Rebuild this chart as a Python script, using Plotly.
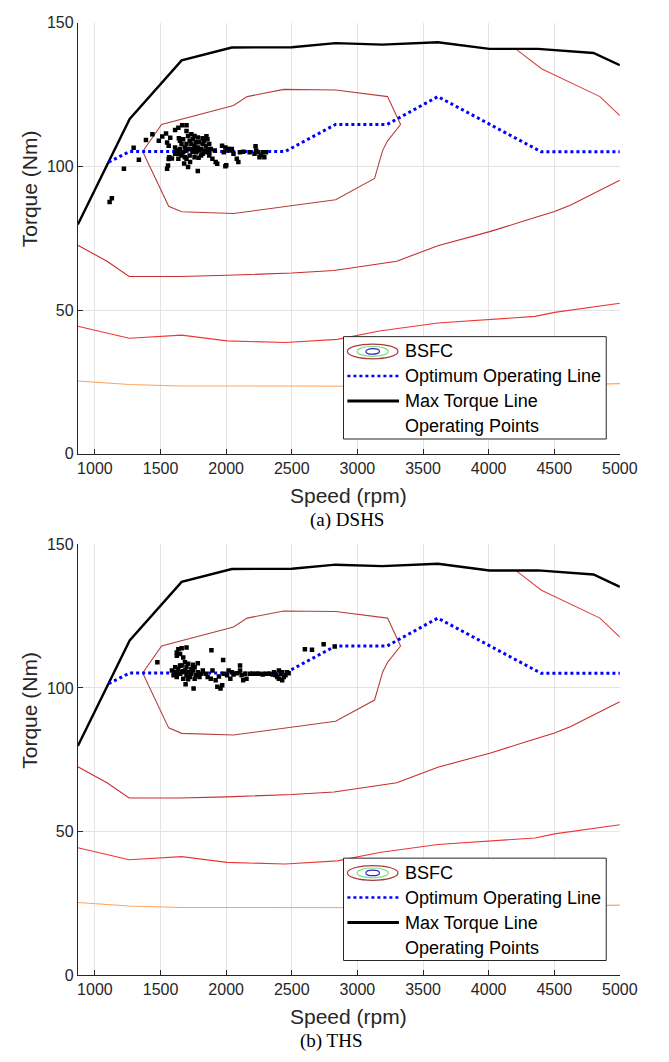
import plotly.graph_objects as go

W, H = 669, 1062

# ---------------- data ----------------
max_tq_rpm = [870, 1105, 1265, 1661, 2043, 2501, 2834, 3190, 3613, 4006, 4376, 4799, 5000]
max_tq_nm = [79.8, 101.5, 116.5, 136.9, 141.4, 141.5, 142.9, 142.4, 143.2, 140.9, 140.9, 139.5, 135.2]

opt_rpm = [1105, 1265, 2450, 2834, 3226, 3613, 4400, 5000]
opt_nm = [101.5, 105.2, 105.2, 114.6, 114.6, 124.3, 105.1, 105.1]

bsfc1_rpm = [1364, 1508, 2056, 2160, 2439, 2834, 3230, 3329, 3230, 3192, 3131, 2834, 2056, 1661, 1562, 1364]
bsfc1_nm = [105.2, 114.6, 121.2, 124.3, 126.8, 126.6, 124.3, 114.6, 108.9, 105.5, 95.8, 88.4, 83.6, 84.2, 86.1, 105.2]

bsfc2_rpm = [870, 1092, 1261, 1648, 2006, 2501, 2822, 3300, 3613, 4008, 4304, 4502, 4626, 5000]
bsfc2_nm = [72.6, 67.0, 61.7, 61.7, 62.1, 62.9, 63.8, 67.0, 72.4, 77.3, 81.5, 84.3, 86.6, 95.2]

bsfc3_rpm = [870, 1261, 1661, 2006, 2451, 2847, 3168, 3613, 4354, 4502, 5000]
bsfc3_nm = [44.4, 40.2, 41.3, 39.3, 38.7, 39.8, 42.7, 45.5, 47.8, 49.2, 52.4]

bsfc4_rpm = [870, 1261, 1661, 2871, 3600, 4400, 5000]
bsfc4_nm = [25.3, 24.1, 23.6, 23.5, 23.5, 23.8, 24.4]

bsfc5_rpm = [4206, 4403, 4848, 5000]
bsfc5_nm = [140.9, 134.0, 124.3, 117.7]

dshs_rpm = [1112, 1129, 1221, 1295, 1335, 1389, 1438, 1487, 1513, 1542, 1574, 1550, 1562, 1611, 1636, 1665, 1698, 1698,
            1562, 1567, 1587, 1550, 1557, 1710, 1784, 1994,
            1611, 1623, 1636, 1648, 1660, 1673, 1685, 1698, 1710, 1722, 1735, 1735, 1747, 1759, 1772, 1784, 1796, 1809,
            1821, 1833, 1846, 1858, 1871, 1660, 1636, 1685, 1722, 1759, 1784, 1809, 1833, 1871, 1883, 1710, 1759, 1735,
            1611, 1648, 1673, 1698, 1772, 1821, 1796, 1846,
            1871, 1895, 1920, 1932, 1913,
            1969, 1994, 2019, 2031, 1982, 2006, 2043, 2056, 2081, 2093, 2001, 2105, 2130,
            2224, 2229, 2216, 2241, 2266, 2278, 2291, 2254, 2303, 2179,
            1747, 1697, 1760, 1820, 1850, 1640, 1790, 1725, 1680, 1860]
dshs_nm = [87.6, 88.9, 99.2, 106.5, 102.3, 109.2, 111.2, 108.9, 110.4, 111.5, 110.0, 108.3, 107.2, 112.7, 113.5, 114.3, 114.3, 112.3,
           102.6, 103.2, 102.8, 99.2, 100.3, 99.8, 98.4, 100.1,
           106.6, 105.5, 104.4, 106.1, 103.8, 104.9, 106.6, 102.7, 110.6, 108.9, 107.8, 106.1, 109.5, 107.2, 104.9, 110.1, 108.4, 106.1,
           104.4, 108.9, 107.2, 109.5, 107.8, 107.8, 102.7, 103.2, 103.8, 103.2, 106.6, 103.8, 105.5, 104.9, 106.1, 106.1, 110.6, 111.2,
           104.4, 108.9, 109.5, 107.8, 108.4, 107.8, 105.5, 104.9,
           103.8, 102.7, 101.5, 100.9, 105.5,
           107.2, 106.6, 106.1, 105.5, 104.9, 106.1, 106.1, 104.4, 102.7, 101.5, 100.4, 104.9, 105.1,
           107.0, 105.5, 104.4, 104.9, 104.0, 104.9, 103.2, 103.2, 104.9, 104.9,
           105.0, 105.5, 105.8, 109.8, 110.5, 109.8, 103.0, 101.5, 101.0, 106.0]

ths_rpm = [1476, 1624, 1636, 1661, 1698, 1624, 1649, 1888, 1977,
           1673, 1686, 1661, 1710, 1747, 1784, 1760,
           1587, 1599, 1612, 1624, 1636, 1649, 1661, 1673, 1686, 1698, 1710, 1723, 1735, 1747, 1760, 1772, 1784, 1797, 1809,
           1612, 1649, 1698, 1735, 1624, 1673, 1710,
           1691, 1752,
           1822, 1846, 1859, 1883, 1896, 1920, 1933, 1957, 1970, 1945, 1982, 2007, 2019, 2032, 2044, 2056, 2081, 2106, 2106,
           2118, 2130, 2143, 2155,
           2180, 2205, 2229, 2254, 2279, 2303, 2328, 2353,
           2365, 2378, 2390, 2402, 2415, 2427, 2439, 2452, 2464, 2476, 2402, 2427,
           2600, 2654, 2743, 2827]
ths_nm = [108.9, 112.3, 113.5, 113.8, 114.1, 111.2, 111.8, 113.1, 109.7,
          110.6, 108.9, 107.8, 108.4, 108.1, 108.6, 107.2,
          106.1, 104.4, 105.5, 103.8, 106.6, 104.9, 105.5, 103.2, 106.1, 104.4, 105.5, 103.8, 104.9, 106.1, 103.2, 104.4, 105.5, 103.8, 104.9,
          107.2, 107.8, 107.2, 106.6, 105.1, 105.8, 103.0,
          101.3, 99.8,
          106.1, 104.9, 103.8, 103.2, 106.1, 102.7, 100.4, 99.8, 100.9, 104.0, 104.9, 104.4, 106.1, 103.2, 105.5, 104.7, 105.1, 107.8, 106.1,
          104.4, 102.7, 104.9, 103.2,
          104.9, 104.9, 104.9, 104.9, 104.7, 104.9, 104.9, 104.7,
          105.5, 104.4, 103.8, 103.2, 104.9, 102.7, 103.8, 104.4, 105.5, 105.1, 106.1, 105.5,
          113.5, 113.3, 115.2, 114.4]

x_ticks = [1000, 1500, 2000, 2500, 3000, 3500, 4000, 4500, 5000]
y_ticks = [0, 50, 100, 150]
legend_labels = ["BSFC", "Optimum Operating Line", "Max Torque Line", "Operating Points"]
captions = ["(a) DSHS", "(b) THS"]

# ---------------- figure ----------------
fig = go.Figure()

def px(x):
    return x / W

def py(y):
    return 1 - y / H

panels = [("x", "y", dshs_rpm, dshs_nm, 0), ("x2", "y2", ths_rpm, ths_nm, 530)]

contours = [
    (bsfc2_rpm, bsfc2_nm, "#c92d2d"),
    (bsfc3_rpm, bsfc3_nm, "#ee3636"),
    (bsfc4_rpm, bsfc4_nm, "#ffa35a"),
    (bsfc5_rpm, bsfc5_nm, "#d94444"),
    (bsfc1_rpm, bsfc1_nm, "#b3403d"),
]

for xa, ya, srpm, snm, off in panels:
    for r, t, c in contours:
        fig.add_trace(go.Scatter(x=r, y=t, mode="lines", line=dict(color=c, width=1.1),
                                 xaxis=xa, yaxis=ya, showlegend=False, hoverinfo="skip"))
    fig.add_trace(go.Scatter(x=max_tq_rpm, y=max_tq_nm, mode="lines", line=dict(color="black", width=2.4),
                             xaxis=xa, yaxis=ya, showlegend=False))
    fig.add_trace(go.Scatter(x=opt_rpm, y=opt_nm, mode="lines", line=dict(color="#0000ff", width=3, dash="dot"),
                             xaxis=xa, yaxis=ya, showlegend=False))
    fig.add_trace(go.Scatter(x=srpm, y=snm, mode="markers",
                             marker=dict(symbol="square", size=4.5, color="black", line=dict(width=0)),
                             xaxis=xa, yaxis=ya, showlegend=False))

tickfont = dict(family="Liberation Sans, Arial, sans-serif", size=16, color="#262626")
ax_common = dict(showgrid=True, gridcolor="#e4e4e4", gridwidth=1, showline=True, linecolor="#262626",
                 linewidth=1, ticks="inside", ticklen=5, tickcolor="#262626", zeroline=False,
                 tickfont=tickfont, mirror=False)

xdom = [80 / W, 637 / W]
fig.update_layout(
    width=W, height=H, margin=dict(l=0, r=0, t=0, b=0),
    paper_bgcolor="white", plot_bgcolor="white", showlegend=False,
    xaxis=dict(domain=xdom, range=[870, 5000], tickvals=x_ticks, anchor="y", **ax_common),
    yaxis=dict(domain=[py(453), py(15)], range=[0, 150], tickvals=y_ticks, anchor="x", **ax_common),
    xaxis2=dict(domain=xdom, range=[870, 5000], tickvals=x_ticks, anchor="y2", **ax_common),
    yaxis2=dict(domain=[py(983), py(545)], range=[0, 150], tickvals=y_ticks, anchor="x2", **ax_common),
)

shapes = []
annotations = []
for i, (xa, ya, srpm, snm, off) in enumerate(panels):
    # axis titles and caption
    annotations.append(dict(x=px(358), y=py(495 + off), xref="paper", yref="paper", text="Speed (rpm)",
                            showarrow=False, xanchor="center", yanchor="middle",
                            font=dict(family="Liberation Sans, Arial, sans-serif", size=21, color="#262626")))
    annotations.append(dict(x=px(30), y=py(184 + off), xref="paper", yref="paper", text="Torque (Nm)",
                            showarrow=False, xanchor="center", yanchor="middle", textangle=-90,
                            font=dict(family="Liberation Sans, Arial, sans-serif", size=21, color="#262626")))
    cx = 357 if i == 0 else 340
    annotations.append(dict(x=px(cx), y=py(520 + off), xref="paper", yref="paper", text=captions[i],
                            showarrow=False, xanchor="center", yanchor="middle",
                            font=dict(family="Liberation Serif, Times New Roman, serif", size=19, color="black")))
    # legend box
    shapes.append(dict(type="rect", xref="paper", yref="paper", x0=px(353), x1=px(623),
                       y0=py(438 + off), y1=py(334 + off), fillcolor="white",
                       line=dict(color="#262626", width=1), layer="above"))
    rows = [349, 374, 399.5, 425]
    # BSFC icon ellipses
    for rx, ry, col in [(26, 7.5, "#a83c3c"), (16, 5, "#7fe07f"), (7, 2.8, "#2a2ad0")]:
        shapes.append(dict(type="circle", xref="paper", yref="paper",
                           x0=px(383 - rx), x1=px(383 + rx), y0=py(rows[0] + off + ry), y1=py(rows[0] + off - ry),
                           line=dict(color=col, width=1.2), layer="above"))
    shapes.append(dict(type="line", xref="paper", yref="paper", x0=px(357), x1=px(410),
                       y0=py(rows[1] + off), y1=py(rows[1] + off), line=dict(color="#0000ff", width=2.5, dash="dot"),
                       layer="above"))
    shapes.append(dict(type="line", xref="paper", yref="paper", x0=px(357), x1=px(410),
                       y0=py(rows[2] + off), y1=py(rows[2] + off), line=dict(color="black", width=3),
                       layer="above"))
    for lab, r in zip(legend_labels, rows):
        annotations.append(dict(x=px(414), y=py(r + off), xref="paper", yref="paper", text=lab,
                                showarrow=False, xanchor="left", yanchor="middle",
                                font=dict(family="Liberation Sans, Arial, sans-serif", size=18, color="black")))

fig.update_layout(shapes=shapes, annotations=annotations)
fig.write_html("out.html")
